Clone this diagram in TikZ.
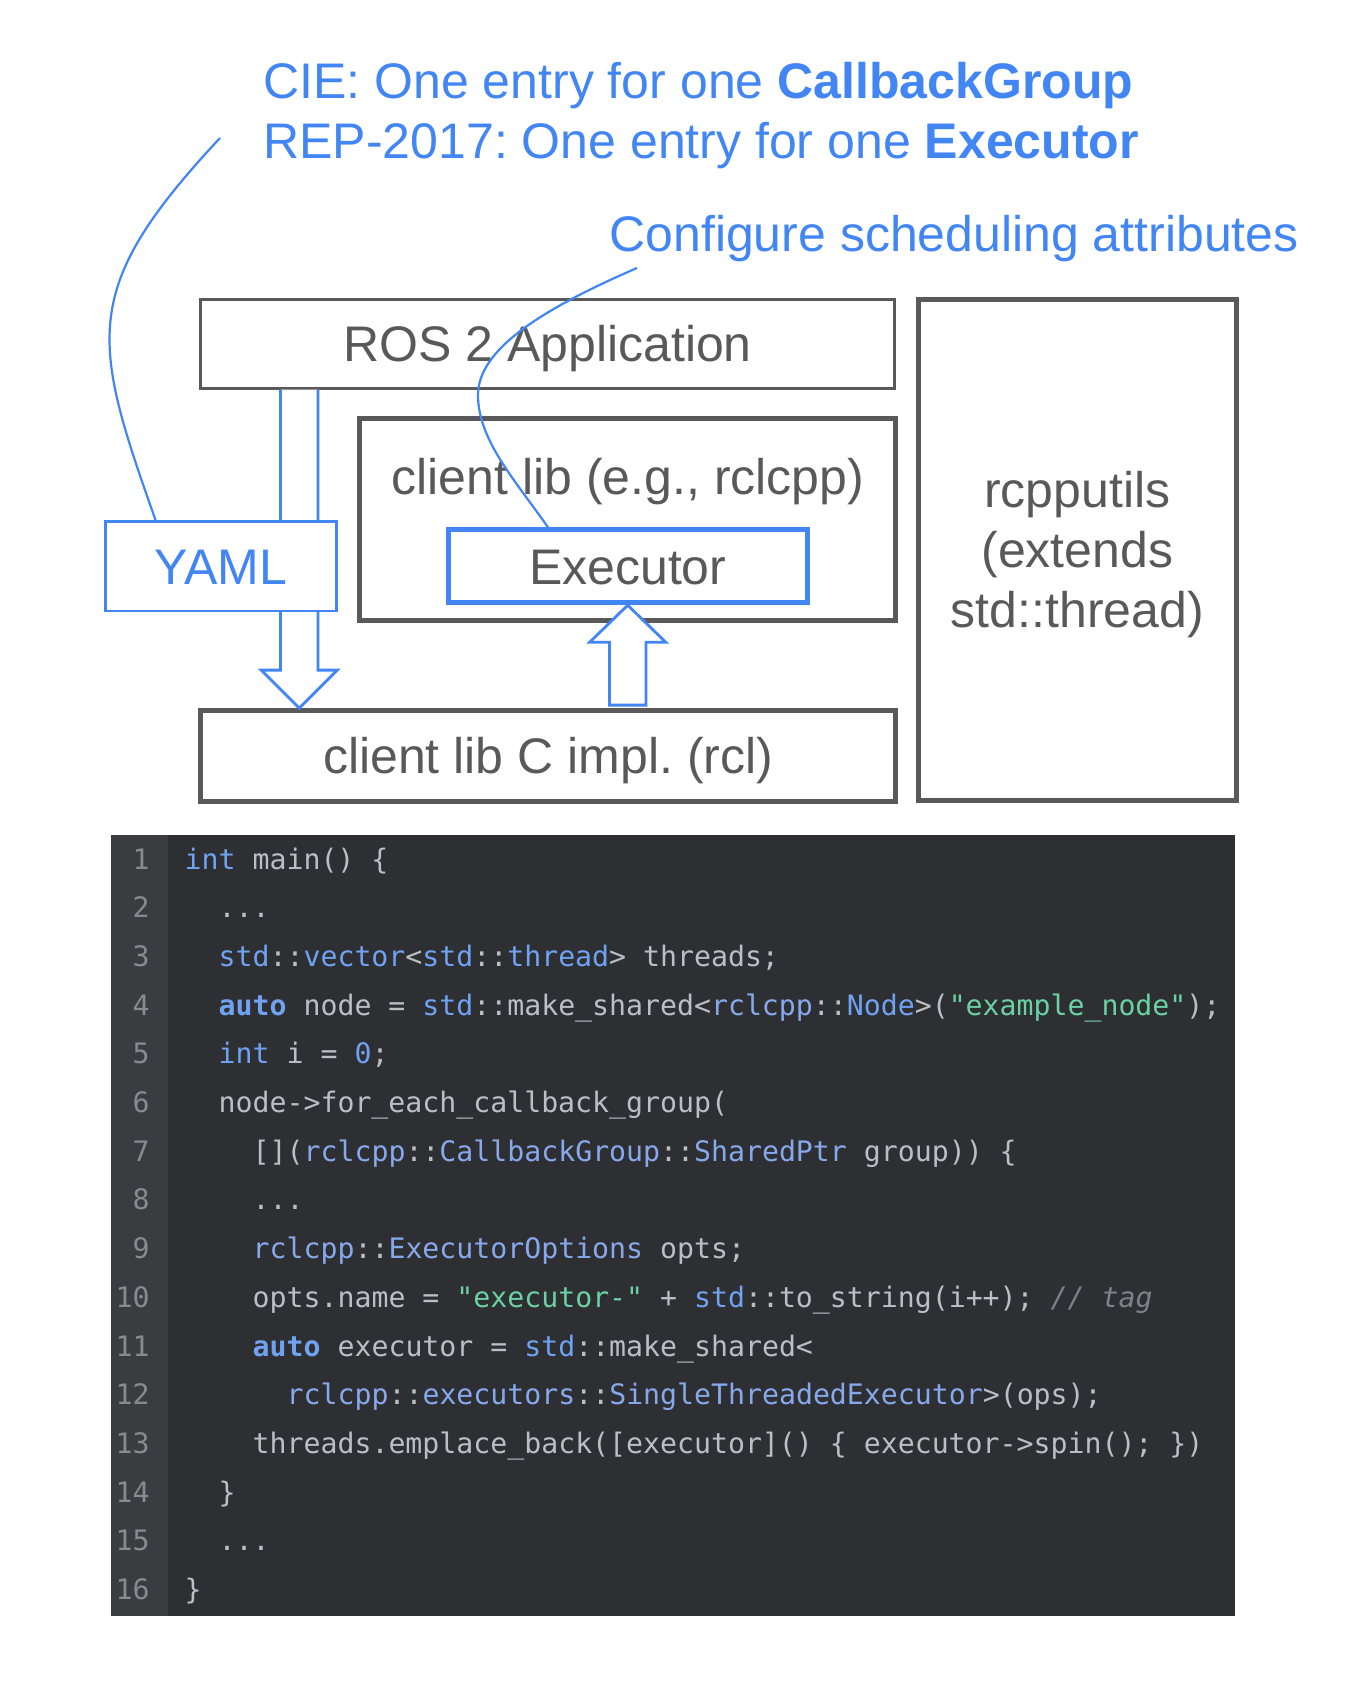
\documentclass[tikz,border=0pt]{standalone}
\usepackage{fontspec}
\setmainfont{Liberation Sans}
\setmonofont{DejaVu Sans Mono}
\usepackage{xcolor}
\usetikzlibrary{calc, positioning}
\frenchspacing

\definecolor{gblue}{HTML}{4285F4}
\definecolor{boxgray}{HTML}{595959}
\definecolor{codebg}{HTML}{2E2F33}
\definecolor{gutterbg}{HTML}{3A3C40}
\definecolor{codefg}{HTML}{BCBEC4}
\definecolor{numfg}{HTML}{868A91}
\definecolor{kwblue}{HTML}{6FA3F2}
\definecolor{tyblue}{HTML}{87A9EC}
\definecolor{strgreen}{HTML}{6AD1A3}
\definecolor{cmtgray}{HTML}{7E8188}

\newcommand{\kw}[1]{\textcolor{kwblue}{#1}}
\newcommand{\kwb}[1]{\textcolor{kwblue}{\bfseries #1}}
\newcommand{\ty}[1]{\textcolor{tyblue}{#1}}
\newcommand{\cstr}[1]{\textcolor{strgreen}{#1}}
\newcommand{\cmt}[1]{\textcolor{cmtgray}{\itshape #1}}

\begin{document}
\begin{tikzpicture}[
    x=0.5pt, y=-0.5pt,
    bigtext/.style={font=\fontsize{25}{30}\selectfont},
    headline/.style={bigtext, text=gblue, anchor=base west, inner sep=0pt},
    graybox/.style={bigtext, draw=boxgray, text=boxgray, line width=2.5pt, inner sep=0pt, text height=21pt, text depth=3pt},
    thinbox/.style={graybox, line width=1.35pt},
    bluebox/.style={graybox, draw=gblue, fill=white, line width=1.35pt},
    link/.style={gblue, line width=1.1pt},
    hollow/.style={draw=gblue, fill=white, line width=1.4pt, line join=miter},
    code/.style={font=\ttfamily\fontsize{14.1}{17}\selectfont, text=codefg, anchor=base west, inner sep=0pt},
    lnum/.style={code, text=numfg, anchor=base east},
  ]
    \useasboundingbox (0,0) rectangle (1349,1700);

    % ── Notes (top) ──
    \node[headline] (t-cie) at (263,98.5) {CIE: One entry for one \textbf{CallbackGroup}};
    \node[headline] (t-rep) at (263,158.5) {REP-2017: One entry for one \textbf{Executor}};
    \node[headline] (t-cfg) at (609,252) {Configure scheduling attributes};

    % ── Layer boxes ──
    \node[thinbox, minimum width=347pt, minimum height=44.5pt] (ros) at (547.6,343.8) {ROS 2 Application};
    \node[graybox, minimum width=268pt, minimum height=100.7pt] (clib) at (627.9,519.3) {};
    \node[bigtext, text=boxgray, anchor=base, inner sep=0pt] (clib-label) at (627.9,494.5) {client lib (e.g., rclcpp)};
    \node[bluebox, line width=2.5pt, minimum width=179.3pt, minimum height=36.5pt] (exec) at (627.7,566.2) {Executor};
    \node[graybox, minimum width=347.5pt, minimum height=45.2pt] (rcl) at (548.2,755.8) {client lib C impl. (rcl)};
    \node[graybox, minimum width=158.9pt, minimum height=250.5pt] (utils) at (1077.4,549.8) {};
    \node[bigtext, text=boxgray, align=center, inner sep=0pt] (utils-label) at (1077.4,554.3) {rcpputils\\(extends\\std::thread)};

    % Hollow arrow ROS 2 Application -> rcl (runs behind YAML)
    \coordinate (a1-top) at ($(ros.south west)+(100,0)$);
    \coordinate (a1-tip) at (a1-top |- rcl.north);
    \draw[hollow] ($(a1-top)+(-18.7,0)$) -- ($(a1-tip)+(-18.7,-38)$) -- ($(a1-tip)+(-38,-38)$) -- (a1-tip)
      -- ($(a1-tip)+(38,-38)$) -- ($(a1-tip)+(18.7,-38)$) -- ($(a1-top)+(18.7,0)$);
    \node[bluebox, text=gblue, minimum width=115.4pt, minimum height=44.8pt] (yaml) at (220.8,566.3) {YAML};

    % Hollow arrow rcl -> Executor
    \coordinate (a2-tip) at (exec.south);
    \coordinate (a2-foot) at ($(exec.south |- rcl.north)+(0,-3)$);
    \draw[hollow] ($(a2-foot)+(-18.3,0)$) -- ($(a2-tip)+(-18.3,37)$) -- ($(a2-tip)+(-38,37)$) -- (a2-tip)
      -- ($(a2-tip)+(38,37)$) -- ($(a2-tip)+(18.3,37)$) -- ($(a2-foot)+(18.3,0)$) -- cycle;

    % Callout lines
    \coordinate (cie-end) at (220,138);
    \coordinate (cfg-end) at (637,268);
    \draw[link] ($(yaml.north west)+(51.5,0)$) .. controls (92,340) and (78,290) .. (cie-end);
    \draw[link] ($(exec.north west)+(102,0)$) .. controls (515,480) and (478,440) .. (478,395)
      .. controls (478,350) and (540,310) .. (cfg-end);

    % ── Code listing ──
    \fill[codebg] (110.6,835) rectangle (1234.5,1616);
    \fill[gutterbg] (110.6,835) rectangle (168,1616);
    \foreach \i in {1,...,16}
      \node[lnum] (num-\i) at (150,{869+48.7*(\i-1)}) {\i};

    \node[code] (code-1) at (184.3,0 |- num-1.base) {\kw{int} main() \{};
    \node[code] (code-2) at (218.3,0 |- num-2.base) {...};
    \node[code] (code-3) at (218.3,0 |- num-3.base) {\kw{std}::\kw{vector}<\kw{std}::\kw{thread}> threads;};
    \node[code] (code-4) at (218.3,0 |- num-4.base) {\kwb{auto} node = \kw{std}::make\_shared<\ty{rclcpp}::\kw{Node}>(\cstr{"example\_node"});};
    \node[code] (code-5) at (218.3,0 |- num-5.base) {\kw{int} i = \kw{0};};
    \node[code] (code-6) at (218.3,0 |- num-6.base) {node->for\_each\_callback\_group(};
    \node[code] (code-7) at (252.3,0 |- num-7.base) {[](\ty{rclcpp}::\ty{CallbackGroup}::\ty{SharedPtr} group)) \{};
    \node[code] (code-8) at (252.3,0 |- num-8.base) {...};
    \node[code] (code-9) at (252.3,0 |- num-9.base) {\ty{rclcpp}::\ty{ExecutorOptions} opts;};
    \node[code] (code-10) at (252.3,0 |- num-10.base) {opts.name = \cstr{"executor-"} + \kw{std}::to\_string(i++); \cmt{// tag}};
    \node[code] (code-11) at (252.3,0 |- num-11.base) {\kwb{auto} executor = \kw{std}::make\_shared<};
    \node[code] (code-12) at (286.3,0 |- num-12.base) {\ty{rclcpp}::\ty{executors}::\ty{SingleThreadedExecutor}>(ops);};
    \node[code] (code-13) at (252.3,0 |- num-13.base) {threads.emplace\_back([executor]() \{ executor->spin(); \})};
    \node[code] (code-14) at (218.3,0 |- num-14.base) {\}};
    \node[code] (code-15) at (218.3,0 |- num-15.base) {...};
    \node[code] (code-16) at (184.3,0 |- num-16.base) {\}};
  \end{tikzpicture}
\end{document}
